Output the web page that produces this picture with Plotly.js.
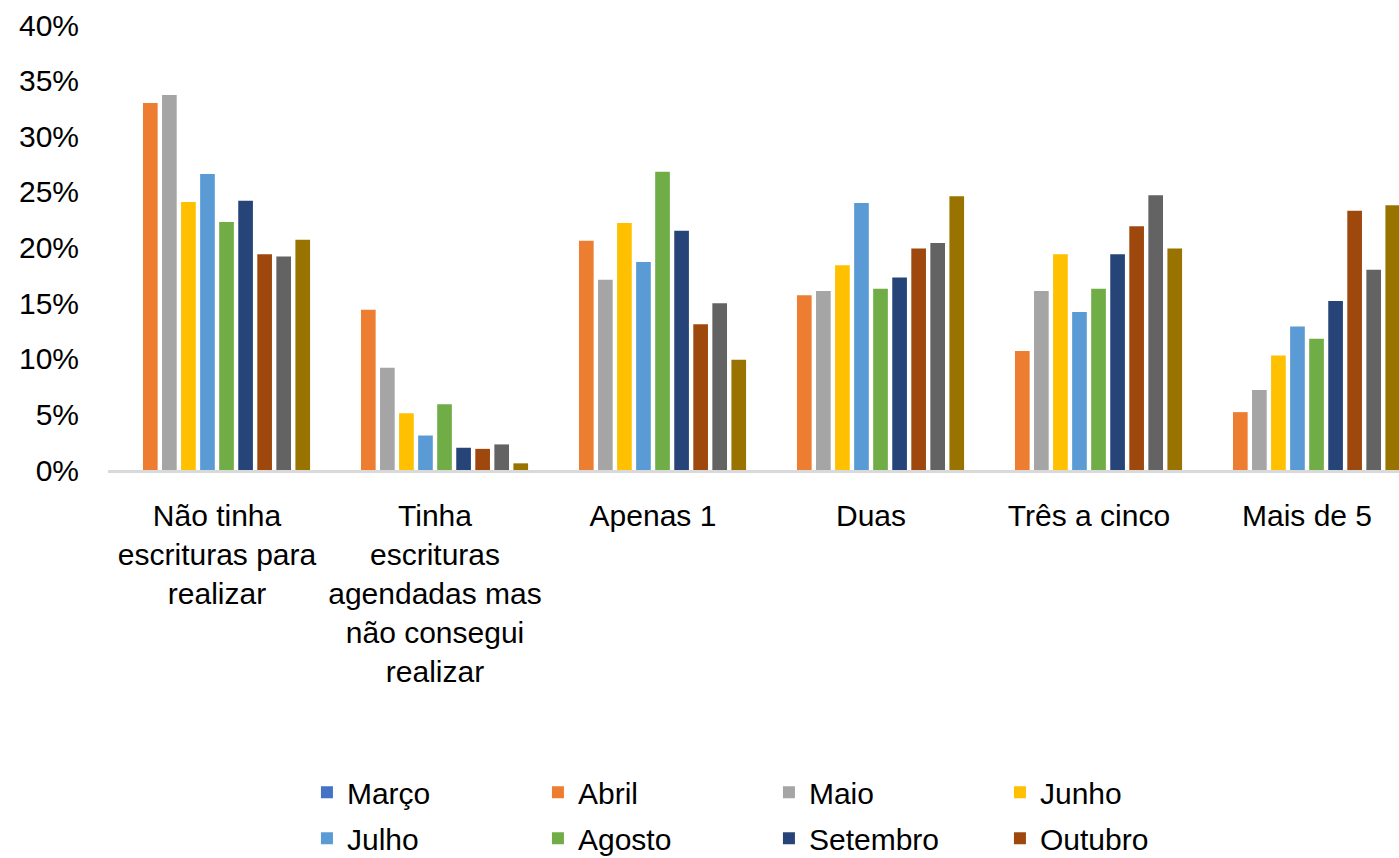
<!DOCTYPE html>
<html>
<head>
<meta charset="utf-8">
<script src="https://cdn.plot.ly/plotly-3.0.1.min.js"></script>
<style>html,body{margin:0;padding:0;background:#fff;}#chart{width:1399px;height:858px;}</style>
</head>
<body>
<div id="chart"></div>
<script>
const categories = [
  "Não tinha<br>escrituras para<br>realizar",
  "Tinha<br>escrituras<br>agendadas mas<br>não consegui<br>realizar",
  "Apenas 1",
  "Duas",
  "Três a cinco",
  "Mais de 5"
];
const marco    = [0, 0, 0, 0, 0, 0];
const abril    = [33.0, 14.4, 20.6, 15.7, 10.7, 5.2];
const maio     = [33.7, 9.2, 17.1, 16.1, 16.1, 7.2];
const junho    = [24.1, 5.1, 22.2, 18.4, 19.4, 10.3];
const julho    = [26.6, 3.1, 18.7, 24.0, 14.2, 12.9];
const agosto   = [22.3, 5.9, 26.8, 16.3, 16.3, 11.8];
const setembro = [24.2, 2.0, 21.5, 17.3, 19.4, 15.2];
const outubro  = [19.4, 1.9, 13.1, 19.9, 21.9, 23.3];
const novembro = [19.2, 2.3, 15.0, 20.4, 24.7, 18.0];
const dezembro = [20.7, 0.6, 9.9, 24.6, 19.9, 23.8];
const yTicks = [0, 5, 10, 15, 20, 25, 30, 35, 40];

const series = [
  {name: "Março", y: marco, color: "#4472C4", legend: "legend"},
  {name: "Abril", y: abril, color: "#ED7D31", legend: "legend"},
  {name: "Maio", y: maio, color: "#A5A5A5", legend: "legend"},
  {name: "Junho", y: junho, color: "#FFC000", legend: "legend"},
  {name: "Julho", y: julho, color: "#5B9BD5", legend: "legend2"},
  {name: "Agosto", y: agosto, color: "#70AD47", legend: "legend2"},
  {name: "Setembro", y: setembro, color: "#264478", legend: "legend2"},
  {name: "Outubro", y: outubro, color: "#9E480E", legend: "legend2"},
  {name: "Novembro", y: novembro, color: "#636363", legend: null},
  {name: "Dezembro", y: dezembro, color: "#997300", legend: null}
];

const traces = series.map(s => {
  const t = {
    type: "bar",
    name: s.name,
    x: categories,
    y: s.y,
    showlegend: s.legend !== null,
    marker: {color: s.color, line: {width: 0}},
    hoverinfo: "x+y+name"
  };
  if (s.legend) t.legend = s.legend;
  return t;
});

const font = {family: "Liberation Sans, Arial, sans-serif", size: 30, color: "#000"};

const legendBase = {
  orientation: "h",
  x: 0.1541,
  xanchor: "left",
  yanchor: "top",
  entrywidth: 186,
  entrywidthmode: "pixels",
  font: font,
  traceorder: "normal",
  bgcolor: "rgba(0,0,0,0)"
};

const layout = {
  width: 1399,
  height: 858,
  paper_bgcolor: "#fff",
  plot_bgcolor: "#fff",
  font: font,
  barmode: "group",
  bargap: 0.126,
  bargroupgap: 0.23,
  margin: {l: 108, r: 0, t: 25, b: 388, autoexpand: false},
  xaxis: {
    type: "category",
    range: [-0.5, 5.422],
    showline: true,
    linecolor: "#d9d9d9",
    linewidth: 3,
    ticks: "",
    showgrid: false,
    tickangle: 0,
    ticklabelstandoff: 17,
    tickfont: font
  },
  yaxis: {
    range: [0, 40],
    tickvals: yTicks,
    ticktext: yTicks.map(v => v + "%"),
    showgrid: false,
    zeroline: false,
    showline: false,
    ticks: "",
    ticklabelstandoff: 28,
    tickfont: font
  },
  legend: Object.assign({}, legendBase, {y: -0.6655}),
  legend2: Object.assign({}, legendBase, {y: -0.7689}),
  showlegend: true
};

Plotly.newPlot("chart", traces, layout, {displayModeBar: false, staticPlot: true});
</script>
</body>
</html>
